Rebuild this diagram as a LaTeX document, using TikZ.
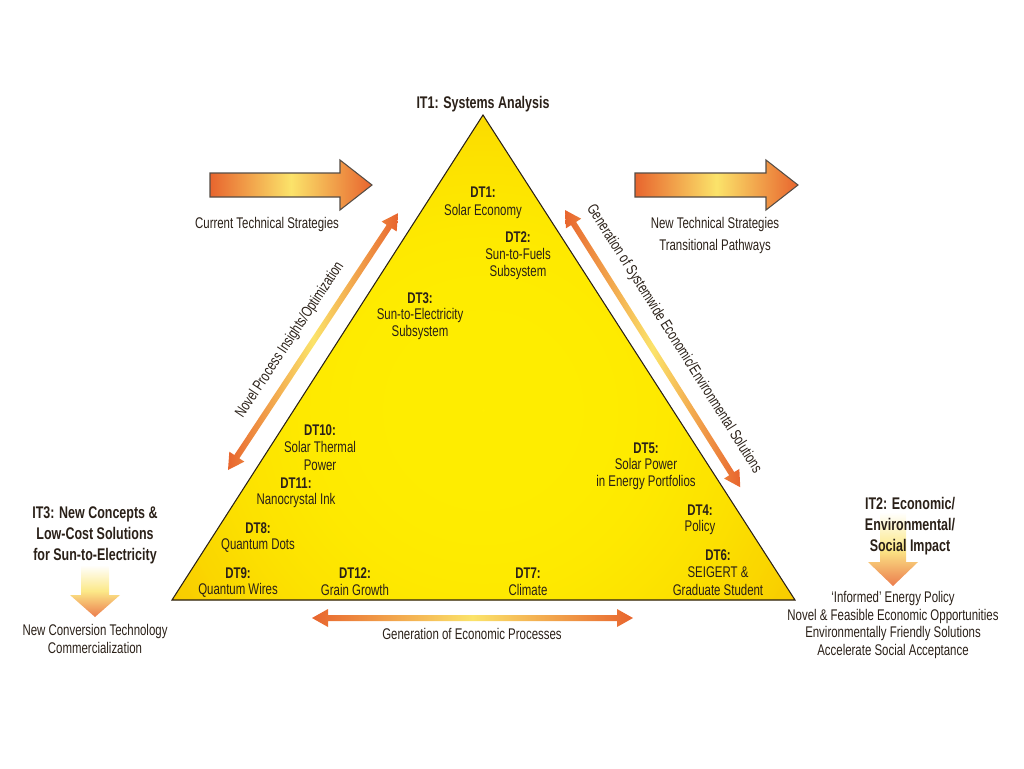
\documentclass[tikz,border=0pt]{standalone}
\usepackage{fontspec}
\usetikzlibrary{fadings}
\setmainfont{Liberation Sans}[FakeStretch=0.74]
\definecolor{arrR}{HTML}{E8652E}
\definecolor{arrY}{HTML}{FBE36A}
\definecolor{triY}{HTML}{FFEE00}
\definecolor{triO}{HTML}{F2A000}
\definecolor{ink}{HTML}{2A2018}
\tikzfading[name=trifade, inner color=transparent!0, outer color=transparent!100]
\begin{document}
\begin{tikzpicture}[x=0.02cm,y=-0.02cm,
  t/.style={font=\fontsize{8.8}{10.2}\selectfont, align=center, inner sep=0pt, text=ink},
  b/.style={t, font=\fontsize{8.8}{10.2}\selectfont\bfseries},
  orng/.style={left color=arrR, right color=arrR, middle color=arrY},
  blk/.style={left color=arrR, right color=arrR, middle color=arrY, draw=ink!80, line width=0.6pt},
  down/.style={top color=white, bottom color=arrR!85, middle color=arrY!80}]
\useasboundingbox (0,0) rectangle (1024,768);
% triangle
\coordinate (A) at (483,115); \coordinate (B) at (172,600); \coordinate (C) at (795,600);
\begin{scope}
\clip (A)--(B)--(C)--cycle;
\fill[triO] (150,100) rectangle (820,620);
\fill[triY, path fading=trifade] (483,410) circle (560);
\fill[triY, path fading=trifade] (483,410) circle (480);
\fill[triY, path fading=trifade] (483,410) circle (400);
\end{scope}
\draw[line width=0.6pt, ink] (A)--(B)--(C)--cycle;
% block arrows
\shade[blk] (210,173)--(340,173)--(340,160)--(372,185)--(340,210)--(340,197)--(210,197)--cycle;
\shade[blk] (635,173)--(766,173)--(766,160)--(798,185)--(766,210)--(766,197)--(635,197)--cycle;
% down arrows
\shade[down] (81,565)--(109,565)--(109,595)--(120,595)--(95,617)--(70,595)--(81,595)--cycle;
\shade[down] (880,512)--(906,512)--(906,562)--(918,562)--(893,586)--(868,562)--(880,562)--cycle;
% double arrows
\begin{scope}[shift={(228,470)}, rotate=56.5]
\shade[orng] (0,0)--(16,-9)--(16,-3)--(292,-3)--(292,-9)--(308,0)--(292,9)--(292,3)--(16,3)--(16,9)--cycle;
\end{scope}
\begin{scope}[shift={(565,210)}, rotate=-57.7]
\shade[orng] (0,0)--(16,-9)--(16,-3)--(312,-3)--(312,-9)--(328,0)--(312,9)--(312,3)--(16,3)--(16,9)--cycle;
\end{scope}
\begin{scope}[shift={(312,618)}]
\shade[orng] (0,0)--(16,-9)--(16,-3)--(305,-3)--(305,-9)--(321,0)--(305,9)--(305,3)--(16,3)--(16,9)--cycle;
\end{scope}
% texts
\node[b, font=\fontsize{9.6}{11}\selectfont\bfseries] (it1) at (483,104) {IT1: Systems Analysis};
\node[t] (cts) at (267,224) {Current Technical Strategies};
\node[t] (nts) at (715,224) {New Technical Strategies};
\node[t] (tp) at (715,246) {Transitional Pathways};
\node[b] (dt1) at (483,192) {DT1:};
\node[t] (dt1t) at (483,211) {Solar Economy};
\node[b] (dt2) at (518,237) {DT2:};
\node[t] (dt2t) at (518,264) {Sun-to-Fuels\\Subsystem};
\node[b] (dt3) at (420,298) {DT3:};
\node[t] (dt3t) at (420,324) {Sun-to-Electricity\\Subsystem};
\node[b] (dt10) at (320,430) {DT10:};
\node[t] (dt10t) at (320,456) {Solar Thermal\\Power};
\node[b] (dt11) at (296,483) {DT11:};
\node[t] (dt11t) at (296,500) {Nanocrystal Ink};
\node[b] (dt8) at (258,528) {DT8:};
\node[t] (dt8t) at (258,546) {Quantum Dots};
\node[b] (dt9) at (238,573) {DT9:};
\node[t] (dt9t) at (238,590) {Quantum Wires};
\node[b] (dt12) at (355,573) {DT12:};
\node[t] (dt12t) at (355,590) {Grain Growth};
\node[b] (dt7) at (528,573) {DT7:};
\node[t] (dt7t) at (528,590) {Climate};
\node[b] (dt6) at (718,555) {DT6:};
\node[t] (dt6t) at (718,581) {SEIGERT \&\\Graduate Student};
\node[b] (dt4) at (700,510) {DT4:};
\node[t] (dt4t) at (700,527) {Policy};
\node[b] (dt5) at (646,448) {DT5:};
\node[t] (dt5t) at (646,474) {Solar Power\\in Energy Portfolios};
\node[b, font=\fontsize{9.6}{11}\selectfont\bfseries] (it3) at (95,535) {IT3: New Concepts \&\\[1pt]Low-Cost Solutions\\[1pt]for Sun-to-Electricity};
\node[t] (nct) at (95,639) {New Conversion Technology\\Commercialization};
\node[b, font=\fontsize{9.6}{11}\selectfont\bfseries] (it2) at (910,526) {IT2: Economic/\\[1pt]Environmental/\\[1pt]Social Impact};
\node[t] (list) at (893,625) {`Informed' Energy Policy\\Novel \& Feasible Economic Opportunities\\Environmentally Friendly Solutions\\Accelerate Social Acceptance};
\node[t] (gep) at (472,634) {Generation of Economic Processes};
\node[t, rotate=56.5] (npi) at (290,340) {Novel Process Insights/Optimization};
\node[t, rotate=-57.7] (gse) at (674,339) {Generation of Systemwide Economic/Environmental Solutions};
\end{tikzpicture}
\end{document}
